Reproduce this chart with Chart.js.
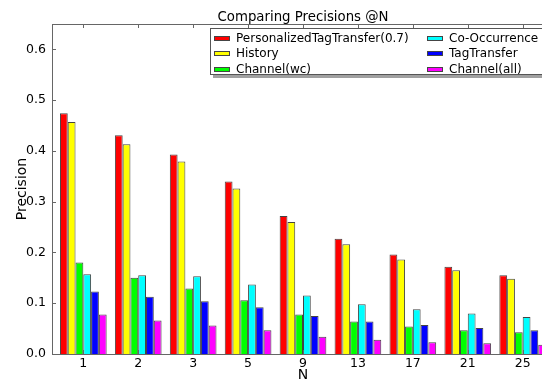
<!DOCTYPE html>
<html><head><meta charset="utf-8">
<script src="https://cdn.jsdelivr.net/npm/chart.js@4"></script>
<style>
html,body{margin:0;padding:0;background:#fff;}
#wrap{position:relative;width:542px;height:380px;overflow:hidden;background:#fff;}
#c{position:absolute;left:0;top:0;}
#legend{position:absolute;left:210px;top:28px;width:345px;height:45px;background:#fff;border:1px solid #555;box-shadow:3px 3px 0 #a0a0a0;font-family:'DejaVu Sans',sans-serif;font-size:12px;color:#000;}
.item{position:absolute;white-space:nowrap;line-height:14px;height:14px;}
.sw{position:absolute;width:14px;height:3px;border:1px solid #444;top:5px;left:0;}
.lbl{position:absolute;left:21px;top:0;}
</style></head>
<body>
<div id="wrap"><canvas id="c" width="578" height="380"></canvas><div id="legend"></div></div>
<script>
const categories = ['1','2','3','5','9','13','17','21','25'];
const seriesNames = ['PersonalizedTagTransfer(0.7)','History','Channel(wc)','Co-Occurrence','TagTransfer','Channel(all)'];
const pttVals = [0.474,0.431,0.393,0.340,0.272,0.227,0.196,0.172,0.155];
const historyVals = [0.457,0.413,0.379,0.326,0.260,0.216,0.186,0.165,0.148];
const channelWcVals = [0.180,0.150,0.129,0.106,0.078,0.064,0.054,0.047,0.043];
const coOccVals = [0.157,0.155,0.153,0.137,0.115,0.098,0.088,0.080,0.073];
const tagTransferVals = [0.123,0.113,0.104,0.092,0.075,0.064,0.057,0.051,0.047];
const channelAllVals = [0.078,0.066,0.056,0.047,0.034,0.028,0.023,0.021,0.018];
const yTickValues = [0,0.1,0.2,0.3,0.4,0.5,0.6];

const seriesValues = [pttVals,historyVals,channelWcVals,coOccVals,tagTransferVals,channelAllVals];
const colors = ['#ff0000','#ffff00','#00ff00','#00ffff','#0000ff','#ff00ff'];
const FONT = 'DejaVu Sans';
const frameColor = '#666';

const innerTicks = {
  id:'innerTicks',
  afterDatasetsDraw(chart){
    const {ctx, chartArea:a, scales} = chart;
    ctx.save();
    ctx.strokeStyle = frameColor; ctx.lineWidth = 1;
    ctx.beginPath();
    scales.x.ticks.forEach(t=>{
      const px = Math.round(scales.x.getPixelForValue(t.value))+0.5;
      ctx.moveTo(px,a.bottom); ctx.lineTo(px,a.bottom-4);
      ctx.moveTo(px,a.top); ctx.lineTo(px,a.top+4);
    });
    scales.y.ticks.forEach(t=>{
      const py = Math.round(scales.y.getPixelForValue(t.value))+0.5;
      ctx.moveTo(a.left,py); ctx.lineTo(a.left+4,py);
      ctx.moveTo(a.right,py); ctx.lineTo(a.right-4,py);
    });
    ctx.moveTo(Math.round(a.right)+0.5,a.top); ctx.lineTo(Math.round(a.right)+0.5,a.bottom);
    ctx.stroke();
    ctx.restore();
  }
};

const xMin = -0.57, xMax = 8.57;

new Chart(document.getElementById('c'), {
  type:'bar',
  data:{
    datasets: seriesValues.map((vals,k)=>({
      label: seriesNames[k],
      data: vals.map((v,i)=>({x:i,y:v})),
      backgroundColor: colors[k],
      borderColor:'#444',
      borderWidth:1,
      categoryPercentage:0.85,
      barPercentage:1
    }))
  },
  options:{
    responsive:false,
    devicePixelRatio:1,
    animation:false,
    layout:{padding:{left:0,right:24,top:0,bottom:0}},
    plugins:{legend:{display:false}, tooltip:{enabled:false}, title:{display:false}},
    scales:{
      x:{
        type:'linear', position:'bottom', min:xMin, max:xMax, offset:false,
        afterBuildTicks: s=>{ s.ticks = categories.map((c,i)=>({value:i})); },
        ticks:{callback:v=>categories[v], font:{family:FONT,size:12.5}, color:'#000', padding:2, maxRotation:0, autoSkip:false},
        grid:{display:false, drawTicks:false, offset:false},
        border:{display:true, color:frameColor, width:1},
        title:{display:true, text:'N', font:{family:FONT,size:14,lineHeight:0.6}, color:'#000', padding:{top:0,bottom:0}},
        afterFit: s=>{ s.height = 26; }
      },
      xTop:{
        type:'linear', position:'top', min:xMin, max:xMax, offset:false,
        ticks:{display:false},
        grid:{display:false, drawTicks:false, offset:false},
        border:{display:true, color:frameColor, width:1},
        title:{display:true, text:'Comparing Precisions @N', font:{family:FONT,size:13.3}, color:'#000', padding:{top:10,bottom:0}},
        afterFit: s=>{ s.height = 24; }
      },
      y:{
        min:0, max:0.65,
        afterBuildTicks: s=>{ s.ticks = yTickValues.map(v=>({value:v})); },
        ticks:{callback:v=>Number(v).toFixed(1), font:{family:FONT,size:12.5}, color:'#000', padding:6},
        grid:{display:false, drawTicks:false},
        border:{display:true, color:frameColor, width:1},
        title:{display:true, text:'Precision', font:{family:FONT,size:14}, color:'#000', padding:{top:14,bottom:0}},
        afterFit: s=>{ s.width = 52; }
      }
    }
  },
  plugins:[innerTicks]
});

// legend (matplotlib-style, 2 columns filled column-major)
const legend = document.getElementById('legend');
const colX = [[3,25],[216,238]];
const rowY = [8.7,24.2,39.7];
seriesNames.forEach((name,k)=>{
  const col = Math.floor(k/3), row = k%3;
  const it = document.createElement('div');
  it.className='item';
  it.style.left = colX[col][0]+'px';
  it.style.top = (rowY[row]-7)+'px';
  const sw = document.createElement('div');
  sw.className='sw'; sw.style.background = colors[k];
  const lb = document.createElement('div');
  lb.className='lbl'; lb.style.left = (colX[col][1]-colX[col][0])+'px';
  lb.textContent = name;
  it.appendChild(sw); it.appendChild(lb);
  legend.appendChild(it);
});
</script>
</body></html>
